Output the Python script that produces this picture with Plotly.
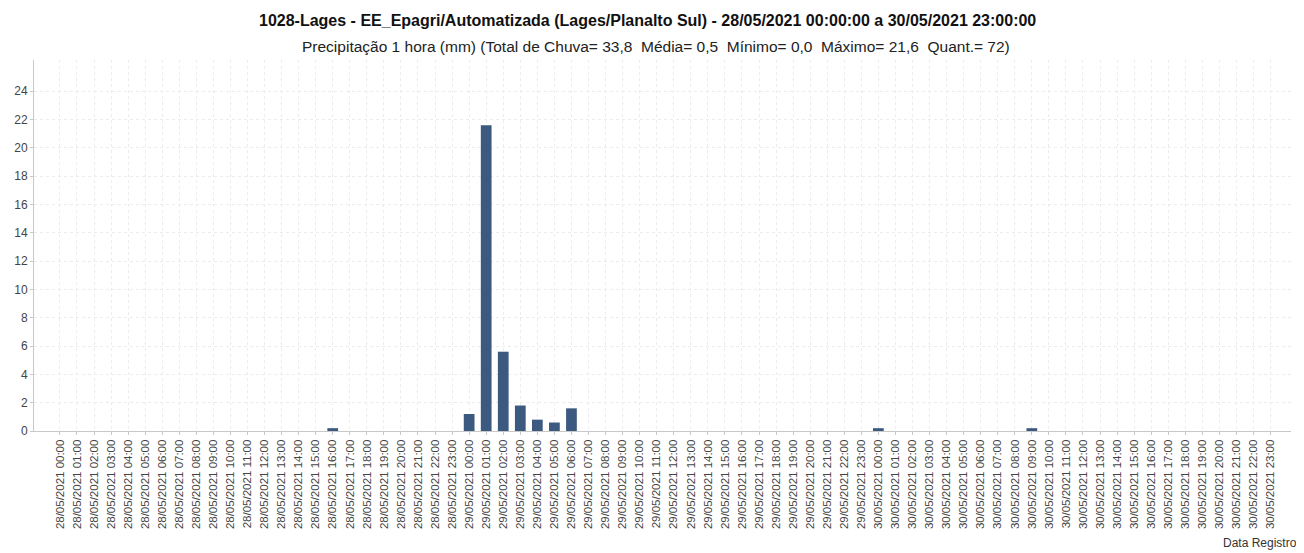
import plotly.graph_objects as go

days = ["28/05/2021", "29/05/2021", "30/05/2021"]
hours = ["%02d:00" % h for h in range(24)]
categories = [f"{d} {h}" for d in days for h in hours]

# Hourly precipitation (mm)
precip_28 = [0, 0, 0, 0, 0, 0, 0, 0, 0, 0, 0, 0, 0, 0, 0, 0, 0.2, 0, 0, 0, 0, 0, 0, 0]
precip_29 = [1.2, 21.6, 5.6, 1.8, 0.8, 0.6, 1.6, 0, 0, 0, 0, 0, 0, 0, 0, 0, 0, 0, 0, 0, 0, 0, 0, 0]
precip_30 = [0.2, 0, 0, 0, 0, 0, 0, 0, 0, 0.2, 0, 0, 0, 0, 0, 0, 0, 0, 0, 0, 0, 0, 0, 0]
values = precip_28 + precip_29 + precip_30

y_ticks = [0, 2, 4, 6, 8, 10, 12, 14, 16, 18, 20, 22, 24]

title_text = "1028-Lages - EE_Epagri/Automatizada (Lages/Planalto Sul) - 28/05/2021 00:00:00 a 30/05/2021 23:00:00"
sub_text = ("Precipitação 1 hora (mm) (Total de Chuva= 33,8\u00a0\u00a0Média= 0,5\u00a0\u00a0Mínimo= 0,0"
            "\u00a0\u00a0Máximo= 21,6\u00a0\u00a0Quant.= 72)")

FONT = "Liberation Sans, Arial, sans-serif"

fig = go.Figure()
fig.add_trace(go.Bar(
    x=list(range(len(categories))),
    y=values,
    width=0.63,
    marker=dict(color="#3c5a80", line=dict(width=0)),
    hovertemplate="%{text}: %{y}<extra></extra>",
    text=categories,
    textposition="none",
))

# page body has an 8px margin, so the figure is sized to fit the window
fig.update_layout(
    width=1296, height=545,
    margin=dict(l=26, r=13, t=52, b=122),
    plot_bgcolor="white", paper_bgcolor="white",
    showlegend=False,
    font=dict(family=FONT, color="#444", size=12),
)

fig.update_xaxes(
    range=[-1.52, 72.2],
    tickmode="array",
    tickvals=list(range(len(categories))),
    ticktext=categories,
    tickangle=-90,
    tickfont=dict(size=11.5, color="#444", family=FONT),
    showgrid=True, gridcolor="#ececec", griddash="3px,3px", gridwidth=1,
    showline=True, linecolor="#c8c8c8", linewidth=1,
    ticks="outside", ticklen=3, tickcolor="#c8c8c8",
    zeroline=False, automargin=False,
)
fig.update_yaxes(
    range=[0, 26.2],
    tickmode="array",
    tickvals=y_ticks,
    ticktext=[str(v) for v in y_ticks],
    tickfont=dict(size=12, color="#444", family=FONT),
    showgrid=True, gridcolor="#ececec", griddash="3px,3px", gridwidth=1,
    showline=True, linecolor="#c8c8c8", linewidth=1,
    ticks="outside", ticklen=3, tickcolor="#c8c8c8",
    zeroline=False, automargin=False,
)

fig.add_annotation(text="<b>" + title_text + "</b>", xref="paper", yref="paper",
                   x=0.488, y=1, yshift=40, xanchor="center", yanchor="middle",
                   showarrow=False, font=dict(size=16, color="#111", family=FONT))
fig.add_annotation(text=sub_text, xref="paper", yref="paper",
                   x=0.495, y=1, yshift=14, xanchor="center", yanchor="middle",
                   showarrow=False, font=dict(size=15.5, color="#222", family=FONT))
fig.add_annotation(text="Data Registro", xref="paper", yref="paper",
                   x=1, y=0, xshift=8, yshift=-112, xanchor="right", yanchor="middle",
                   showarrow=False, font=dict(size=12, color="#333", family=FONT))

fig.write_html("out.html")
